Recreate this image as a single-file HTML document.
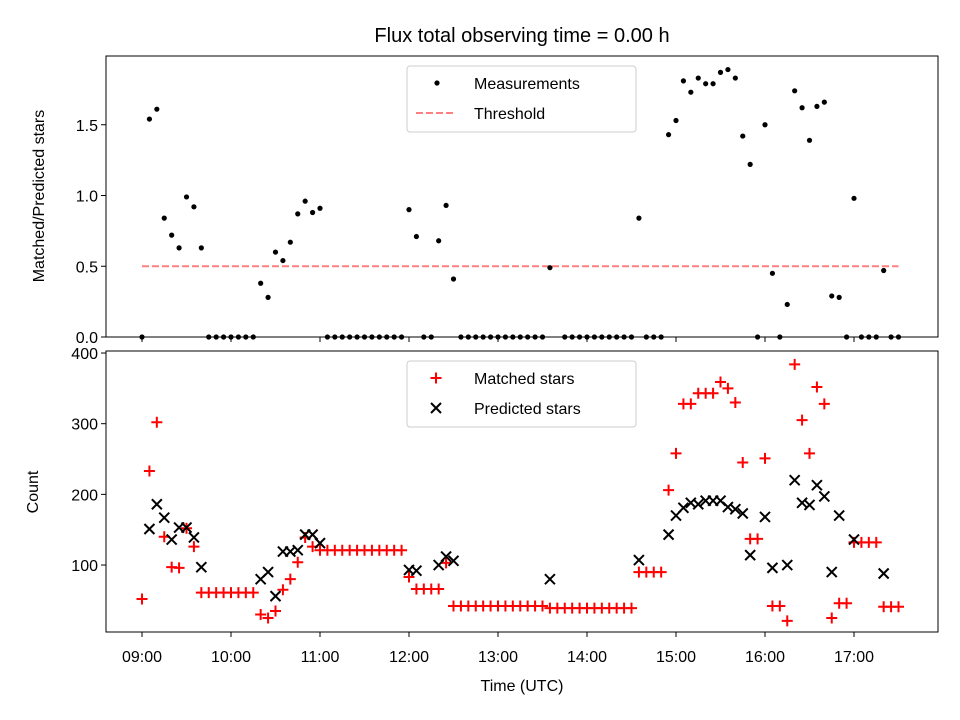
<!DOCTYPE html>
<html><head><meta charset="utf-8"><style>
html,body{margin:0;padding:0;background:#fff;}
svg{display:block;font-family:"Liberation Sans","DejaVu Sans",sans-serif;}
</style></head><body>
<svg id="chart" width="960" height="720" viewBox="0 0 960 720" xmlns="http://www.w3.org/2000/svg">
<rect width="960" height="720" fill="#fff"/>
<text x="522" y="42" font-size="20" text-anchor="middle">Flux total observing time = 0.00 h</text>
<g id="topPanel"></g>
<g id="botPanel"></g>
<text transform="translate(44,196) rotate(-90)" font-size="16" text-anchor="middle">Matched/Predicted stars</text>
<text transform="translate(38,492) rotate(-90)" font-size="16" text-anchor="middle">Count</text>
<text x="522" y="691" font-size="16" text-anchor="middle">Time (UTC)</text>
</svg>
<script>
// sample index k -> minutes after 09:00 = 5*k
const ratioIdx = [0,1,2,3,4,5,6,7,8,9,10,11,12,13,14,15,16,17,18,19,20,21,22,23,24,25,26,27,28,29,30,31,32,33,34,35,36,37,38,39,40,41,42,43,44,45,46,47,48,49,50,51,52,53,54,55,57,58,59,60,61,62,63,64,65,66,67,68,69,70,71,72,73,74,75,76,77,78,79,80,81,82,83,84,85,86,87,88,89,90,91,92,93,94,95,96,97,98,99,100,101,102];
const ratioVals = [0,1.54,1.61,0.84,0.72,0.63,0.99,0.92,0.63,0,0,0,0,0,0,0,0.38,0.28,0.60,0.54,0.67,0.87,0.96,0.88,0.91,0,0,0,0,0,0,0,0,0,0,0,0.90,0.71,0,0,0.68,0.93,0.41,0,0,0,0,0,0,0,0,0,0,0,0,0.49,0,0,0,0,0,0,0,0,0,0,0.84,0,0,0,1.43,1.53,1.81,1.73,1.83,1.79,1.79,1.87,1.89,1.83,1.42,1.22,0,1.50,0.45,0,0.23,1.74,1.62,1.39,1.63,1.66,0.29,0.28,0,0.98,0,0,0,0.47,0,0];
const matchedIdx = [0,1,2,3,4,5,6,7,8,9,10,11,12,13,14,15,16,17,18,19,20,21,22,23,24,25,26,27,28,29,30,31,32,33,34,35,36,37,38,39,40,41,42,43,44,45,46,47,48,49,50,51,52,53,54,55,56,57,58,59,60,61,62,63,64,65,66,67,68,69,70,71,72,73,74,75,76,77,78,79,80,81,82,83,84,85,86,87,88,89,90,91,92,93,94,95,96,97,98,99,100,101,102];
const matchedVals = [52,233,302,140,97,96,152,126,61,61,61,61,61,61,61,61,30,25,35,65,80,104,139,126,121,121,121,121,121,121,121,121,121,121,121,121,83,66,66,66,66,103,42,42,42,42,42,42,42,42,42,42,42,42,42,39,39,39,39,39,39,39,39,39,39,39,39,90,90,90,90,206,258,328,328,343,343,343,359,350,330,245,137,137,251,42,42,21,384,305,258,352,328,25,46,46,132,132,132,132,41,41,41];
const predIdx = [1,2,3,4,5,6,7,8,16,17,18,19,20,21,22,23,24,36,37,40,41,42,55,67,71,72,73,74,75,76,77,78,79,80,81,82,84,85,87,88,89,90,91,92,93,94,96,100];
const predVals = [151,186,167,136,153,153,139,97,80,90,56,119,119,121,143,143,131,93,92,100,112,106,80,107,143,170,181,188,186,191,191,191,182,179,173,114,168,96,100,220,188,185,213,197,90,170,136,88];
const hourTicks = ["09:00","10:00","11:00","12:00","13:00","14:00","15:00","16:00","17:00"];
const ratioTicks = [0,0.5,1.0,1.5];
const countTicks = [100,200,300,400];
const threshold = 0.5;

const NS="http://www.w3.org/2000/svg";
const X0=106,X1=938;
const xOfMin = m => 142 + (m/60)*89;
const xOfIdx = k => xOfMin(5*k);
const yTop = v => 337 - v*141.5;
const yBot = v => 635.7 - v*0.7067;
function mk(parent,tag,attrs){const e=document.createElementNS(NS,tag);for(const a in attrs)e.setAttribute(a,attrs[a]);parent.appendChild(e);return e;}
const topG=document.getElementById('topPanel'), botG=document.getElementById('botPanel');

function axes(g,yA,yB,yScale,ticks,fmt,labels,nm){
  const r=mk(g,'rect',{x:X0,y:yA,width:X1-X0,height:yB-yA,fill:'none',stroke:'#000','stroke-width':1});
  
  
  ticks.forEach(t=>{const y=yScale(t);
    mk(g,'line',{x1:X0-5,x2:X0,y1:y,y2:y,stroke:'#000'});
    const tx=mk(g,'text',{x:X0-8,y:y+6,'font-size':16,'text-anchor':'end'});tx.textContent=fmt(t);
    
    
  });
  hourTicks.forEach((h,i)=>{const x=xOfMin(60*i);
    mk(g,'line',{x1:x,x2:x,y1:yB,y2:yB+5,stroke:'#000'});
    if(labels){const tx=mk(g,'text',{x:x,y:yB+30,'font-size':16,'text-anchor':'middle'});tx.textContent=h;
      
      }
  });
}
axes(topG,56,337,yTop,ratioTicks,v=>v.toFixed(1),false,'ratio');
axes(botG,351,632,yBot,countTicks,v=>String(v),true,'count');

const th=mk(topG,'line',{x1:xOfIdx(0),x2:xOfIdx(102),y1:yTop(threshold),y2:yTop(threshold),stroke:'#ff8080','stroke-width':2,'stroke-dasharray':'7,3'});


ratioIdx.forEach((k,i)=>{
  const c=mk(topG,'circle',{cx:xOfIdx(k),cy:yTop(ratioVals[i]),r:2.6,fill:'#000'});
  
  
});
function plus(g,x,y){return mk(g,'path',{d:`M${x-5.5},${y}H${x+5.5}M${x},${y-5.5}V${y+5.5}`,stroke:'#f00','stroke-width':2,fill:'none'});}
function cross(g,x,y){return mk(g,'path',{d:`M${x-5},${y-5}L${x+5},${y+5}M${x-5},${y+5}L${x+5},${y-5}`,stroke:'#000','stroke-width':2,fill:'none'});}
matchedIdx.forEach((k,i)=>{
  const p=plus(botG,xOfIdx(k),yBot(matchedVals[i]));
  
  
});
predIdx.forEach((k,i)=>{
  const p=cross(botG,xOfIdx(k),yBot(predVals[i]));
  
  
});

function legend(g,y,items,nm){
  const b=mk(g,'rect',{x:407,y:y,width:229,height:66,rx:3,fill:'#fff','fill-opacity':0.8,stroke:'#ccc'});
  
  
  items.forEach((it,i)=>{const cy=y+17+i*30;
    it.draw(g,435,cy);
    const t=mk(g,'text',{x:474,y:cy+6,'font-size':16});t.textContent=it.label;
    
    
  });
}
legend(topG,66,[
  {label:'Measurements',draw:(g,x,y)=>mk(g,'circle',{cx:x+2,cy:y,r:2.6,fill:'#000'})},
  {label:'Threshold',draw:(g,x,y)=>mk(g,'line',{x1:x-19,x2:x+21,y1:y,y2:y,stroke:'#ff8080','stroke-width':2,'stroke-dasharray':'7,3'})}
],'ratio-legend');
legend(botG,361,[
  {label:'Matched stars',draw:(g,x,y)=>plus(g,x+1,y)},
  {label:'Predicted stars',draw:(g,x,y)=>cross(g,x+1,y)}
],'count-legend');
</script>
</body></html>
